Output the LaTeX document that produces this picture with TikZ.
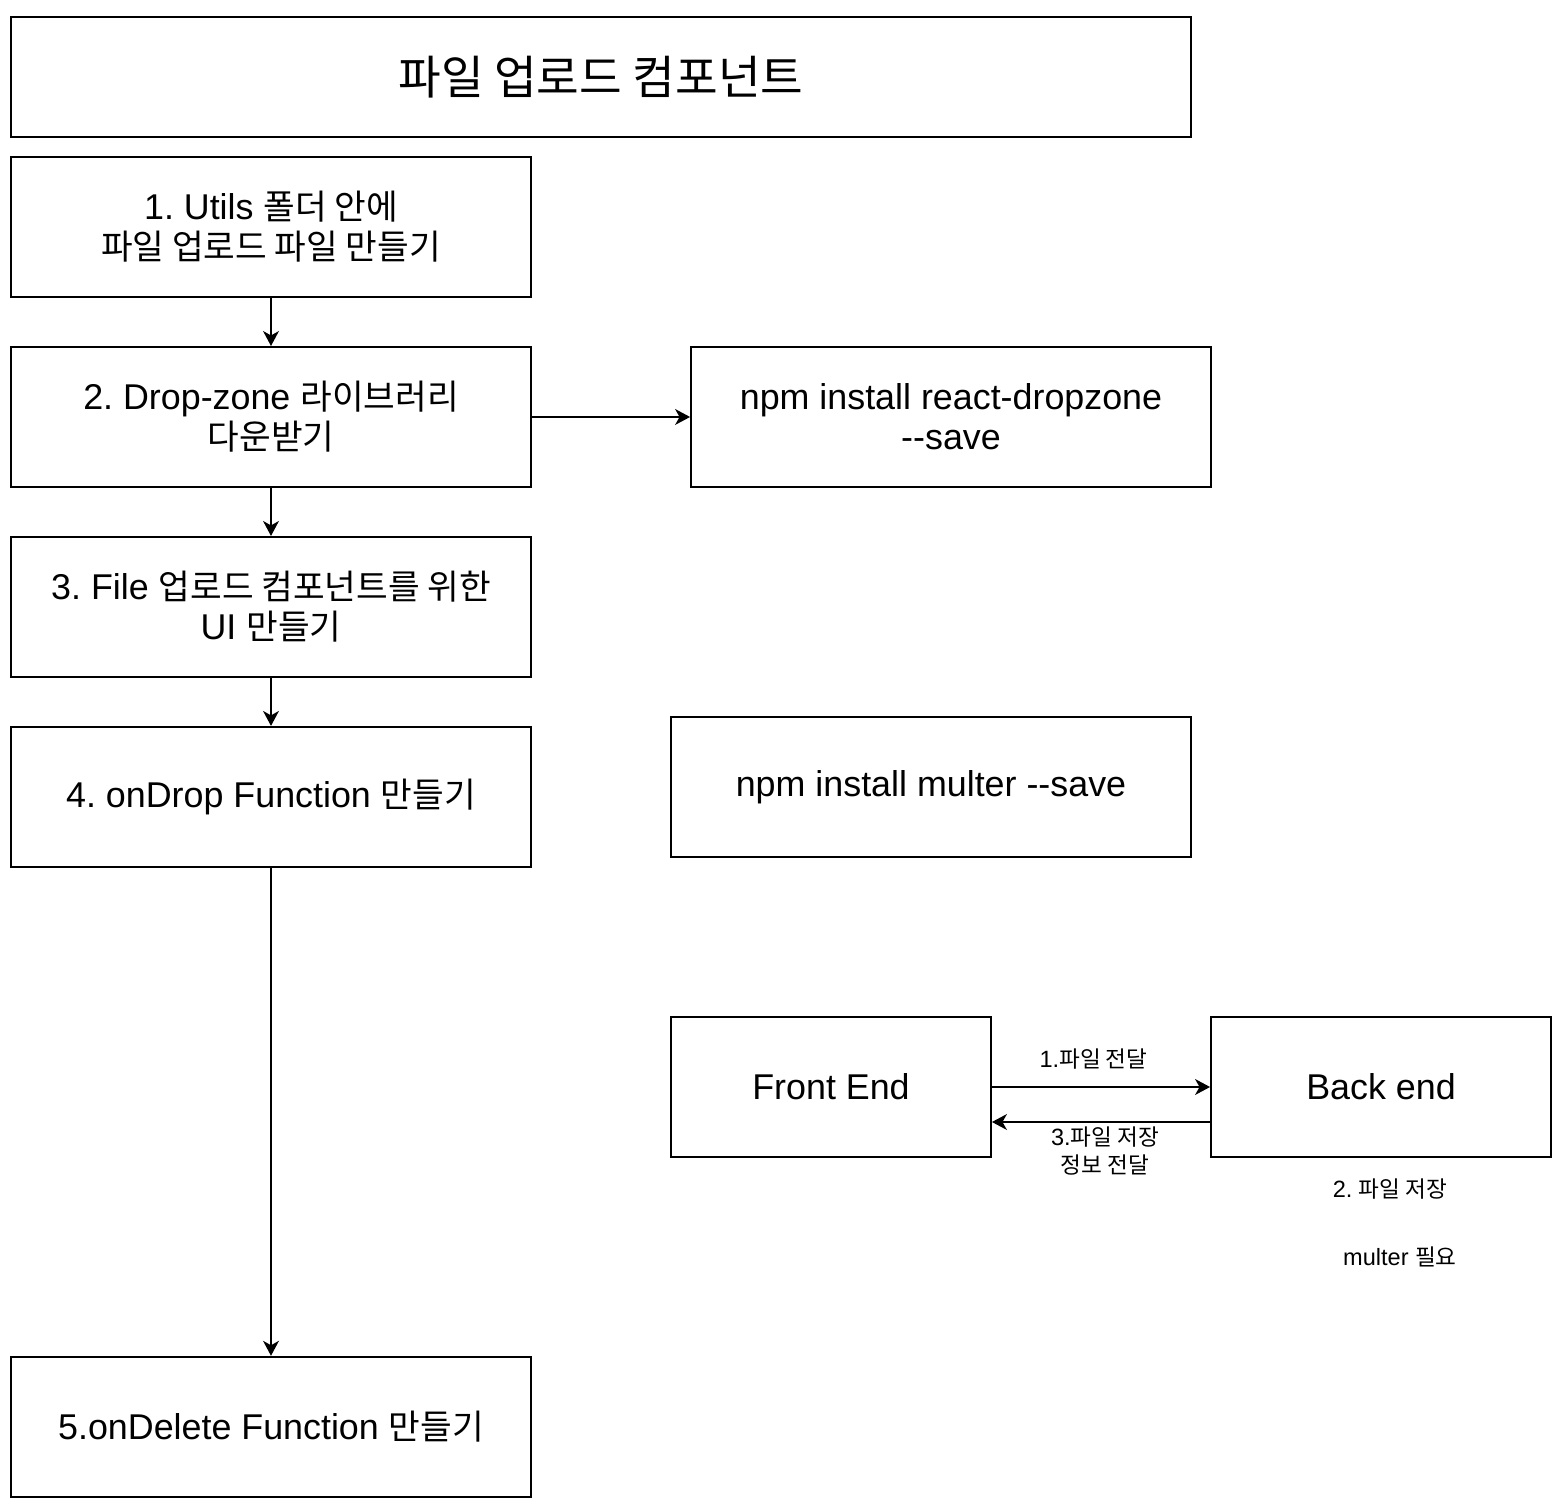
\documentclass[tikz,border=0pt]{standalone}
\usepackage{fontspec}
\setmainfont{Liberation Sans}
\newfontfamily\kr[Scale=0.96]{Noto Sans CJK KR}
\usetikzlibrary{arrows.meta,positioning}
\frenchspacing

\newcommand\mainsz{\fontsize{20.4}{22.7}\selectfont}
\newcommand\smallsz{\fontsize{13.4}{15.9}\selectfont}

\begin{document}
\begin{tikzpicture}[
    x = 0.02cm, y = -0.02cm,
    on grid,
    node distance = 3.8cm,
    line width = 1.1pt,
    >={Stealth[length=8.5pt, width=9pt, inset=2.5pt]}
  ]

  \useasboundingbox (0,0) rectangle (1566,1506);

  \tikzstyle {stepbox} = [draw, minimum width = 10.4cm, minimum height = 2.8cm, align = center, inner sep = 0, font = \mainsz]
  \tikzstyle {titlebox} = [stepbox, minimum width = 23.6cm, minimum height = 2.4cm, font = \fontsize{27.5}{32}\selectfont]
  \tikzstyle {endbox} = [stepbox, minimum width = 6.4cm]
  \tikzstyle {lbl} = [font = \smallsz, align = center, inner sep = 0]

  \node [titlebox] (title) at (601,77) {\kr 파일 업로드 컴포넌트};

  \node [stepbox] (utils) at (271,227) {1. Utils {\kr 폴더 안에}\\{\kr 파일 업로드 파일 만들기}};
  \node [stepbox, below = of utils] (dropzone) {2. Drop-zone {\kr 라이브러리}\\{\kr 다운받기}};
  \node [stepbox, below = of dropzone] (ui) {3. File {\kr 업로드 컴포넌트를 위한}\\UI {\kr 만들기}};
  \node [stepbox, below = of ui] (ondrop) {4. onDrop Function {\kr 만들기}};
  \node [stepbox, below = 12.6cm of ondrop] (ondelete) {5.onDelete Function {\kr 만들기}};

  \node [stepbox] (npmdrop) at (951,417) {npm install react-dropzone\\-{}-save};
  \node [stepbox] (npmmulter) at (931,787) {npm install multer -{}-save};

  \node [endbox] (front) at (831,1087) {Front End};
  \node [endbox, minimum width = 6.8cm] (back) at (1381,1087) {Back end};
  \node [lbl] (savelbl) at (1390,1189) {2. {\kr 파일 저장}};
  \node [lbl] (multerlbl) at (1400,1257) {multer {\kr 필요}};

  \draw [->] (utils) -- (dropzone);
  \draw [->] (dropzone) -- (ui);
  \draw [->] (ui) -- (ondrop);
  \draw [->] (ondrop) -- (ondelete);
  \draw [->] (dropzone) -- (npmdrop);

  \draw [->] (front) -- node [lbl, xshift = -0.15cm, yshift = 0.56cm] {1.{\kr 파일 전달}} (back);
  \draw [->] ([yshift = -0.7cm]back.west) -- node [lbl, xshift = 0.08cm, yshift = -0.58cm] {3.{\kr 파일 저장}\\{\kr 정보 전달}} ([yshift = -0.7cm]front.east);
\end{tikzpicture}
\end{document}
